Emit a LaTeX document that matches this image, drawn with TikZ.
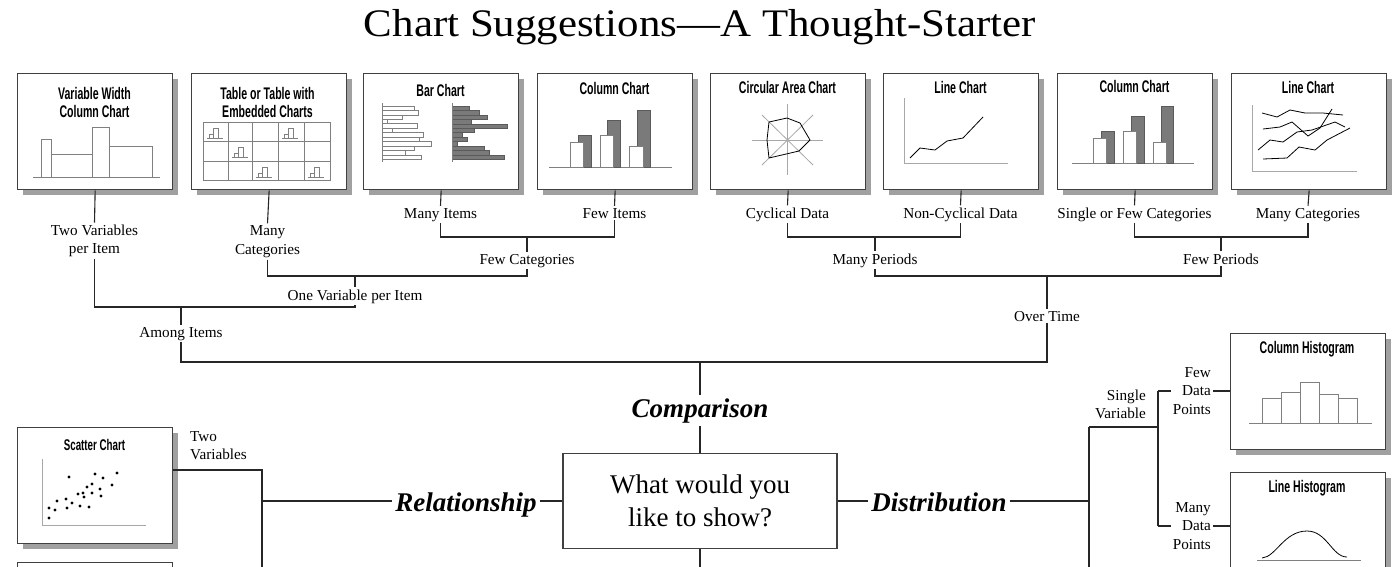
\documentclass[tikz,border=0pt]{standalone}
\usepackage{fontspec}
\usepackage{graphicx}
\setmainfont{Liberation Serif}
\newfontfamily\condfont[FakeStretch=0.63]{Liberation Sans Bold}
\usetikzlibrary{shadows}
\definecolor{boxc}{HTML}{404040}
\definecolor{shadowc}{HTML}{A0A0A0}
\definecolor{linec}{HTML}{262626}
\definecolor{chartc}{HTML}{808080}
\definecolor{lightc}{HTML}{A8A8A8}
\definecolor{barfill}{HTML}{7A7A7A}
\definecolor{barline}{HTML}{5A5A5A}
\begin{document}
\begin{tikzpicture}[x=1pt,y=-1pt,
  cbox/.style={draw=boxc, line width=1.3pt, fill=white, minimum width=155pt, minimum height=116pt, inner sep=0pt, anchor=north west,
    drop shadow={shadow xshift=5pt, shadow yshift=-5pt, fill=shadowc, opacity=1}},
  ctitle/.style={font=\condfont\fontsize{16.8}{19}\selectfont, anchor=base, inner sep=0pt},
  lbl/.style={font=\fontsize{15.2}{18.5}\selectfont, inner sep=2pt, align=center},
  lbls/.style={font=\fontsize{15.2}{18.5}\selectfont, inner sep=0pt},
  conn/.style={draw=linec, line width=1.1pt},
  big/.style={font=\fontsize{27}{32}\selectfont\bfseries\itshape, inner sep=3pt, anchor=base},
  cl/.style={draw=chartc, line width=0.8pt},
  ll/.style={draw=lightc, line width=0.8pt},
  dl/.style={draw=black, line width=0.8pt, line join=round},
  dot/.style={fill=black, draw=none}
]
\useasboundingbox (0,0) rectangle (1399,566);
\clip (0,0) rectangle (1399,566);

% title
\node[anchor=base, font=\fontsize{39}{44}\selectfont, inner sep=0pt] (title) at (700,36) {\scalebox{1.10}[1]{Chart Suggestions—A Thought-Starter}};

% top boxes
\node[cbox] (b1) at (17,73) {};
\node[cbox] (b2) at (191,73) {};
\node[cbox] (b3) at (363,73) {};
\node[cbox] (b4) at (537,73) {};
\node[cbox] (b5) at (710,73) {};
\node[cbox] (b6) at (883,73) {};
\node[cbox] (b7) at (1057,73) {};
\node[cbox] (b8) at (1231,73) {};
% right and left boxes
\node[cbox] (hc) at (1230,333) {};
\node[cbox] (hl) at (1230,472) {};
\node[cbox] (sc) at (17,427) {};
\node[cbox] (sc2) at (17,562) {};

% titles
\node[ctitle] (t1a) at (94.5,99) {Variable Width};
\node[ctitle] (t1b) at (94.5,117) {Column Chart};
\node[ctitle] (t2a) at (267.5,99) {Table or Table with};
\node[ctitle] (t2b) at (267.5,117) {Embedded Charts};
\node[ctitle] (t3) at (440.5,96) {Bar Chart};
\node[ctitle] (t4) at (614.5,94) {Column Chart};
\node[ctitle] (t5) at (787.5,93) {Circular Area Chart};
\node[ctitle] (t6) at (960.5,93) {Line Chart};
\node[ctitle] (t7) at (1134.5,92) {Column Chart};
\node[ctitle] (t8) at (1308,93) {Line Chart};
\node[ctitle] (thc) at (1307,353) {Column Histogram};
\node[ctitle] (thl) at (1307,492) {Line Histogram};
\node[ctitle, font=\condfont\fontsize{15.5}{18}\selectfont] (tsc) at (94.5,450) {Scatter Chart};

% box 1: variable width column chart
\draw[cl] (33,177) -- (160,177);
\draw[cl] (41,177) rectangle (51,139);
\draw[cl] (51,177) rectangle (92,154);
\draw[cl] (92,177) rectangle (109,127);
\draw[cl] (109,177) rectangle (152,146);

% box 2: table
\draw[cl] (203,122) rectangle (330,180);
\foreach \x in {228,252,278,304} \draw[cl] (\x,122) -- (\x,180);
\foreach \y in {141,161} \draw[cl] (203,\y) -- (330,\y);
\foreach \cx/\cy in {203/122, 278/122, 228/141, 252/161, 304/161} {
  \draw[cl, line width=0.6pt] (\cx+4,\cy+16) -- (\cx+20,\cy+16);
  \draw[cl, line width=0.6pt] (\cx+6,\cy+16) rectangle (\cx+10,\cy+12);
  \draw[cl, line width=0.6pt] (\cx+10,\cy+16) rectangle (\cx+15,\cy+6);
}

% box 3: bar chart
\foreach \len [count=\i] in {414,418,402,387,417,392,423,419,431,414,405,421}
  \draw[cl, line width=0.7pt, fill=white] (382,{106+(\i-1)*4.45}) rectangle (\len,{106+\i*4.45});
\draw[cl] (382,103) -- (382,162);
\foreach \len [count=\i] in {469,479,487,471,507,474,462,467,457,484,489,504}
  \draw[draw=barline, fill=barfill, line width=0.5pt] (452,{106+(\i-1)*4.45}) rectangle (\len,{106+\i*4.45});
\draw[cl] (452,103) -- (452,162);

% box 4: column chart
\draw[cl] (549,167) -- (672,167);
\draw[draw=barline, fill=barfill, line width=0.6pt] (578,167) rectangle (591,135);
\draw[draw=barline, fill=barfill, line width=0.6pt] (607,167) rectangle (620,120);
\draw[draw=barline, fill=barfill, line width=0.6pt] (637,167) rectangle (650,110);
\draw[cl, fill=white] (570,167) rectangle (583,142);
\draw[cl, fill=white] (600,167) rectangle (613,135);
\draw[cl, fill=white] (629,167) rectangle (643,146);

% box 5: circular area chart
\draw[ll] (787,104) -- (787,175);
\draw[ll] (752,140) -- (823,140);
\draw[ll] (762,115) -- (813,165);
\draw[ll] (762,165) -- (813,115);
\draw[dl] (769,122) -- (787,118) -- (800,123) -- (810,140) -- (799,151) -- (769,158) -- (767,140) -- cycle;

% box 6: line chart
\draw[ll] (904,98) -- (904,163) -- (1008,163);
\draw[dl] (910,158) -- (920,148) -- (935,150) -- (947,141) -- (963,138) -- (983,117);

% box 7: column chart
\draw[cl] (1072,163) -- (1194,163);
\draw[draw=barline, fill=barfill, line width=0.6pt] (1101,163) rectangle (1114,131);
\draw[draw=barline, fill=barfill, line width=0.6pt] (1131,163) rectangle (1144,116);
\draw[draw=barline, fill=barfill, line width=0.6pt] (1161,163) rectangle (1173,106);
\draw[cl, fill=white] (1093,163) rectangle (1106,138);
\draw[cl, fill=white] (1123,163) rectangle (1136,131);
\draw[cl, fill=white] (1153,163) rectangle (1166,142);

% box 8: multi line chart
\draw[ll] (1252,105) -- (1252,171) -- (1357,171);
\draw[dl] (1262,113) -- (1277,117) -- (1290,110) -- (1305,113) -- (1323,113) -- (1343,115);
\draw[dl] (1263,129) -- (1280,127) -- (1292,122) -- (1308,136) -- (1320,128) -- (1332,109);
\draw[dl] (1258,150) -- (1270,140) -- (1283,142) -- (1297,132) -- (1312,130) -- (1335,122) -- (1345,127);
\draw[dl] (1263,159) -- (1287,158) -- (1299,147) -- (1315,150) -- (1327,140) -- (1350,128);

% column histogram
\draw[cl] (1249,423) -- (1372,423);
\foreach \x/\t in {1262/398,1281/392,1300/382,1319/394,1338/398}
  \draw[cl] (\x,423) rectangle (\x+19,\t);

% line histogram
\draw[cl] (1257,560) -- (1361,560);
\draw[dl] (1262,558) .. controls (1276,557) and (1284,531) .. (1307,531) .. controls (1327,531) and (1332,557) .. (1347,557);

% scatter
\draw[ll] (42,459) -- (42,525) -- (146,525);
\foreach \px/\py in {69/477,95/474,103/478,117/473,92/484,87/487,83/493,78/494,100/489,112/485,57/501,66/499,72/503,80/506,89/507,67/508,49/508,55/510,49/518,101/496,84/497,92/493}
  \fill[dot] (\px,\py) circle (1.6);

% labels
\node[lbl, anchor=base] (lmi) at (440.5,218) {Many Items};
\node[lbl, anchor=base] (lfi) at (614.5,218) {Few Items};
\node[lbl, anchor=base] (lcy) at (787.5,218) {Cyclical Data};
\node[lbl, anchor=base] (lnc) at (960.5,218) {Non-Cyclical Data};
\node[lbl, anchor=base] (lsf) at (1134.5,218) {Single or Few Categories};
\node[lbl, anchor=base] (lmc) at (1308,218) {Many Categories};
\node[lbl] (ltv) at (94.5,241) {Two Variables\\per Item};
\node[lbl] (lmcat) at (267.5,241.5) {Many\\Categories};
\node[lbl, anchor=base] (lfc) at (527,264) {Few Categories};
\node[lbl, anchor=base] (lmp) at (875,264) {Many Periods};
\node[lbl, anchor=base] (lfp) at (1221,264) {Few Periods};
\node[lbl, anchor=base] (lov) at (355,300) {One Variable per Item};
\node[lbl, anchor=base] (lai) at (181,337) {Among Items};
\node[lbl, anchor=base] (lot) at (1047,321) {Over Time};

\node[big] (comp) at (700,417) {Comparison};
\node[big] (rel) at (466,511) {Relationship};
\node[big] (dist) at (939,511) {Distribution};

\node[draw=boxc, line width=1.3pt, fill=white, minimum width=274pt, minimum height=95pt, inner sep=0pt, align=center,
  font=\fontsize{27}{33}\selectfont] (q) at (700,501) {What would you\\like to show?};

\node[lbls, align=left, anchor=north west] (ltv2) at (190,431) {Two\\Variables};
\node[lbls, align=right, anchor=north east] (lsv) at (1146,389.6) {Single\\Variable};
\node[lbl, align=right, anchor=north east, inner sep=2pt] (lfew) at (1213,365) {Few\\Data\\Points};
\node[lbl, align=right, anchor=north east, inner sep=2pt] (lmany) at (1213,500) {Many\\Data\\Points};

% coordinates
\coordinate (k1) at (527,237);
\coordinate (k2) at (875,237);
\coordinate (k3) at (1221,237);
\coordinate (k4) at (355,276);
\coordinate (k5) at (1047,276);
\coordinate (k6) at (181,307);
\coordinate (k7) at (700,362);
\coordinate (qb) at (700,600);
\coordinate (jt) at (262,470);
\coordinate (jr) at (262,501);
\coordinate (jbl) at (262,600);
\coordinate (jd) at (1089,501);
\coordinate (jv) at (1089,427);
\coordinate (jbr) at (1089,600);
\coordinate (js) at (1158,427);
\coordinate (jf) at (1158,391);
\coordinate (jm) at (1158,526);

% connectors
\draw[conn] (b1.south) -- (ltv.north);
\draw[conn] (b2.south) -- (lmcat.north);
\draw[conn] (b3.south) -- (lmi.north);
\draw[conn] (b4.south) -- (lfi.north);
\draw[conn] (b5.south) -- (lcy.north);
\draw[conn] (b6.south) -- (lnc.north);
\draw[conn] (b7.south) -- (lsf.north);
\draw[conn] (b8.south) -- (lmc.north);
\draw[conn] (lmi.south) |- (k1) -| (lfi.south);
\draw[conn] (k1) -- (lfc.north);
\draw[conn] (lcy.south) |- (k2) -| (lnc.south);
\draw[conn] (k2) -- (lmp.north);
\draw[conn] (lsf.south) |- (k3) -| (lmc.south);
\draw[conn] (k3) -- (lfp.north);
\draw[conn] (lmcat.south) |- (k4) -| (lfc.south);
\draw[conn] (k4) -- (lov.north);
\draw[conn] (lmp.south) |- (k5) -| (lfp.south);
\draw[conn] (k5) -- (lot.north);
\draw[conn] (ltv.south) |- (k6) -| (lov.south);
\draw[conn] (k6) -- (lai.north);
\draw[conn] (lai.south) |- (k7) -| (lot.south);
\draw[conn] (k7) -- (comp.north);
\draw[conn] (comp.south) -- (q.north);
\draw[conn] (q.south) -- (qb);
% relationship side
\draw[conn] (sc.east |- jt) -- (jt) -- (jbl);
\draw[conn] (jr) -- (rel.west |- jr);
\draw[conn] (rel.east |- q.west) -- (q.west);
% distribution side
\draw[conn] (q.east) -- (dist.west |- q.east);
\draw[conn] (dist.east |- jd) -- (jd);
\draw[conn] (jv) -- (jbr);
\draw[conn] (jv) -- (js);
\draw[conn] (jf) -- (jm);
\draw[conn] (jf) -- (lfew.west |- jf);
\draw[conn] (lfew.east |- jf) -- (hc.west |- jf);
\draw[conn] (jm) -- (lmany.west |- jm);
\draw[conn] (lmany.east |- jm) -- (hl.west |- jm);
\end{tikzpicture}
\end{document}
